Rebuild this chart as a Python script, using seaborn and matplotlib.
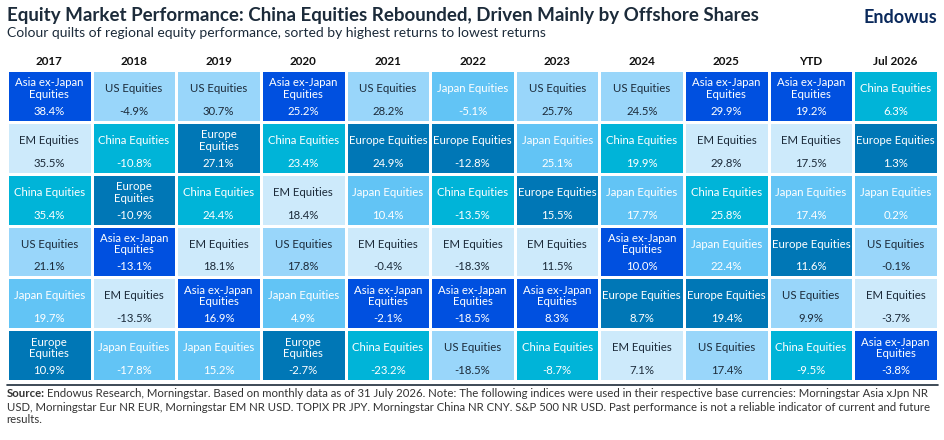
import numpy as np
import pandas as pd
import seaborn as sns
import matplotlib.pyplot as plt
from matplotlib.colors import ListedColormap

periods = ['2017', '2018', '2019', '2020', '2021', '2022', '2023', '2024', '2025', 'YTD', 'Jul 2026']

# ranked top to bottom within each period
ranked_names = [
    ['Asia', 'EM', 'China', 'US', 'Japan', 'Europe'],
    ['US', 'China', 'Europe', 'Asia', 'EM', 'Japan'],
    ['US', 'Europe', 'China', 'EM', 'Asia', 'Japan'],
    ['Asia', 'China', 'EM', 'US', 'Japan', 'Europe'],
    ['US', 'Europe', 'Japan', 'EM', 'Asia', 'China'],
    ['Japan', 'Europe', 'China', 'EM', 'Asia', 'US'],
    ['US', 'Japan', 'Europe', 'EM', 'Asia', 'China'],
    ['US', 'China', 'Japan', 'Asia', 'Europe', 'EM'],
    ['Asia', 'EM', 'China', 'Japan', 'Europe', 'US'],
    ['Asia', 'EM', 'Japan', 'Europe', 'US', 'China'],
    ['China', 'Europe', 'Japan', 'US', 'EM', 'Asia'],
]
ranked_returns = [
    [38.4, 35.5, 35.4, 21.1, 19.7, 10.9],
    [-4.9, -10.8, -10.9, -13.1, -13.5, -17.8],
    [30.7, 27.1, 24.4, 18.1, 16.9, 15.2],
    [25.2, 23.4, 18.4, 17.8, 4.9, -2.7],
    [28.2, 24.9, 10.4, -0.4, -2.1, -23.2],
    [-5.1, -12.8, -13.5, -18.3, -18.5, -18.5],
    [25.7, 25.1, 15.5, 11.5, 8.3, -8.7],
    [24.5, 19.9, 17.7, 10.0, 8.7, 7.1],
    [29.9, 29.8, 25.8, 22.4, 19.4, 17.4],
    [19.2, 17.5, 17.4, 11.6, 9.9, -9.5],
    [6.3, 1.3, 0.2, -0.1, -3.7, -3.8],
]

regions = ['Asia', 'US', 'EM', 'China', 'Europe', 'Japan']
labels = {'Asia': 'Asia ex-Japan\nEquities', 'US': 'US Equities', 'EM': 'EM Equities',
          'China': 'China Equities', 'Europe': 'Europe Equities', 'Japan': 'Japan Equities'}
colors = ['#0050e0', '#99d6fa', '#cdeafb', '#00b4d8', '#0077b6', '#62c4f5']
text_col = {'Asia': 'white', 'US': '#1c2b3a', 'EM': '#1c2b3a', 'China': 'white',
            'Europe': 'white', 'Japan': 'white'}

sns.set_theme(style='white')
plt.rcParams['font.family'] = ['Lato', 'DejaVu Sans']

codes = pd.DataFrame([[regions.index(n) for n in col] for col in ranked_names]).T
codes.columns = periods

fig = plt.figure(figsize=(9.45, 4.4), dpi=100)
ax = fig.add_axes([7 / 945, 59 / 440, 931 / 945, 311 / 440])
sns.heatmap(codes, cmap=ListedColormap(colors), vmin=-0.5, vmax=5.5, cbar=False,
            linewidths=1.0, linecolor='white', ax=ax)

for j, period in enumerate(periods):
    for i in range(6):
        name = ranked_names[j][i]
        lab = labels[name]
        # Europe wraps in the early columns
        if name == 'Europe' and j < 4:
            lab = 'Europe\nEquities'
        ax.text(j + 0.5, i + 0.36, lab, ha='center', va='center', fontsize=8.2,
                color=text_col[name], linespacing=1.05)
        ax.text(j + 0.5, i + 0.8, f'{ranked_returns[j][i]:.1f}%', ha='center', va='center',
                fontsize=8.2, color=text_col[name])

ax.xaxis.tick_top()
ax.set_xticklabels(periods, fontsize=8.4, fontweight='bold', color='#111111', rotation=0)
ax.tick_params(axis='x', length=0, pad=2)
ax.set_yticks([])
ax.set_xlabel('')
ax.set_ylabel('')

fig.text(0.007, 0.965, 'Equity Market Performance: China Equities Rebounded, Driven Mainly by Offshore Shares',
         fontsize=13.5, fontweight='bold', color='#1c2b3a', va='center')
fig.text(0.007, 0.925, 'Colour quilts of regional equity performance, sorted by highest returns to lowest returns',
         fontsize=10, color='#1c2b3a', va='center')
fig.text(0.992, 0.96, 'Endowus', fontsize=13, fontweight='bold', color='#0b2a5c', ha='right', va='center')

fig.add_artist(plt.Line2D([7 / 945, 938 / 945], [55 / 440, 55 / 440], color='#1c2b3a', lw=1.2))

src = fig.text(0.007, 0.118, 'Source:', fontsize=8.2, fontweight='bold', color='#333333', va='top')
fig.canvas.draw()
bb = src.get_window_extent(fig.canvas.get_renderer())
x1 = bb.x1 / fig.bbox.width + 0.003
fig.text(x1, 0.118,
         'Endowus Research, Morningstar. Based on monthly data as of 31 July 2026. Note: The following indices were used in their respective base currencies: Morningstar Asia xJpn NR',
         fontsize=8.2, color='#333333', va='top')
fig.text(0.007, 0.118 - 0.031,
         'USD, Morningstar Eur NR EUR, Morningstar EM NR USD. TOPIX PR JPY. Morningstar China NR CNY. S&P 500 NR USD. Past performance is not a reliable indicator of current and future\n'
         'results.', fontsize=8.2, color='#333333', va='top', linespacing=1.15)

fig.savefig('out.png', dpi=100)
